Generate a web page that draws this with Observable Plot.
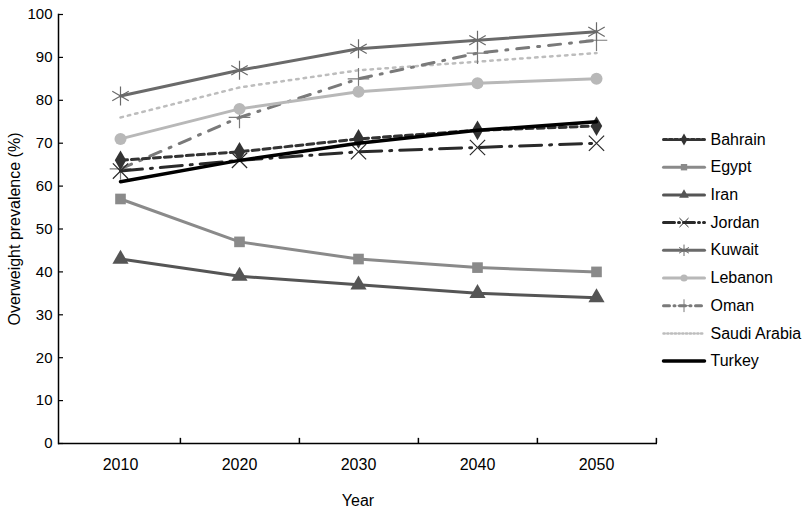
<!DOCTYPE html>
<html>
<head>
<meta charset="utf-8">
<script src="https://cdn.jsdelivr.net/npm/d3@7"></script>
<script src="https://cdn.jsdelivr.net/npm/@observablehq/plot@0.6"></script>
<style>
  html, body { margin: 0; padding: 0; background: #fff; }
  #wrap { position: relative; width: 812px; height: 513px; font-family: "Liberation Sans", Arial, sans-serif; }
  #wrap svg { position: absolute; left: 0; top: 0; }
</style>
</head>
<body>
<div id="wrap"></div>
<script>
// ---- data ----
const years = ["2010", "2020", "2030", "2040", "2050"];
const countries = ["Bahrain", "Egypt", "Iran", "Jordan", "Kuwait", "Lebanon", "Oman", "Saudi Arabia", "Turkey"];
const bahrain = [66, 68, 71, 73, 74];
const egypt = [57, 47, 43, 41, 40];
const iran = [43, 39, 37, 35, 34];
const jordan = [63.5, 66, 68, 69, 70];
const kuwait = [81, 87, 92, 94, 96];
const lebanon = [71, 78, 82, 84, 85];
const oman = [64, 76, 85, 91, 94];
const saudiArabia = [76, 83, 87, 89, 91];
const turkey = [61, 66, 70, 73, 75];
const yTicks = [0, 10, 20, 30, 40, 50, 60, 70, 80, 90, 100];

const seriesValues = {
  "Bahrain": bahrain, "Egypt": egypt, "Iran": iran, "Jordan": jordan, "Kuwait": kuwait,
  "Lebanon": lebanon, "Oman": oman, "Saudi Arabia": saudiArabia, "Turkey": turkey
};

// ---- styles ----
const styles = {
  "Bahrain":      {stroke: "#333", width: 3,   dash: "7,4",        symbol: "diamond", r: 6,  fill: "#333"},
  "Egypt":        {stroke: "#8a8a8a", width: 3, dash: null,        symbol: "square",  r: 6,  fill: "#8a8a8a"},
  "Iran":         {stroke: "#555", width: 3,   dash: null,         symbol: "triangle", r: 6, fill: "#555"},
  "Jordan":       {stroke: "#2a2a2a", width: 3, dash: "22,8,2,8",  symbol: "times",   r: 7,  fill: "none"},
  "Kuwait":       {stroke: "#6a6a6a", width: 3, dash: null,        symbol: "asterisk", r: 9, fill: "none"},
  "Lebanon":      {stroke: "#b8b8b8", width: 3, dash: null,        symbol: "circle",  r: 6,  fill: "#b8b8b8"},
  "Oman":         {stroke: "#7a7a7a", width: 3, dash: "12,9,2,9",  symbol: "plus",    r: 7,  fill: "none"},
  "Saudi Arabia": {stroke: "#bdbdbd", width: 2.5, dash: "2.5,5",   symbol: null,      r: 0,  fill: "none"},
  "Turkey":       {stroke: "#000", width: 3.5, dash: null,         symbol: null,      r: 0,  fill: "none"}
};
const drawOrder = ["Saudi Arabia", "Oman", "Lebanon", "Kuwait", "Jordan", "Bahrain", "Turkey", "Egypt", "Iran"];

const rows = [];
for (const c of countries) seriesValues[c].forEach((v, i) => rows.push({country: c, year: years[i], value: v}));

// ---- layout ----
const W = 812, H = 513;
const mL = 58, mR = 155, mT = 14, mB = 70;
const step = (W - mL - mR) / years.length;
const font = "Liberation Sans, Arial, sans-serif";

const marks = [];
// axes lines
marks.push(Plot.ruleY([0], {stroke: "#000", strokeWidth: 1.5}));
marks.push(Plot.frame({anchor: "left", stroke: "#000", strokeWidth: 1.5}));
// x ticks at category boundaries (inward)
marks.push(Plot.ruleX(years, {x: d => d, dx: step / 2, y1: 0, y2: 1.2, stroke: "#000", strokeWidth: 1.5}));
marks.push(Plot.axisX({tickSize: 0, tickPadding: 15, fontSize: 16, label: null}));
marks.push(Plot.axisY({ticks: yTicks, tickSize: -5, tickPadding: 11, fontSize: 15, label: null, strokeWidth: 1.2}));
// series
for (const c of drawOrder) {
  const s = styles[c];
  const data = rows.filter(d => d.country === c);
  marks.push(Plot.line(data, {x: "year", y: "value", stroke: s.stroke, strokeWidth: s.width,
    strokeDasharray: s.dash || undefined, curve: "linear"}));
  if (s.symbol) {
    const filled = s.fill !== "none";
    marks.push(Plot.dot(data, {x: "year", y: "value", symbol: s.symbol, r: s.r,
      fill: filled ? s.fill : "none", stroke: filled ? "none" : s.stroke, strokeWidth: filled ? 0 : 1.2}));
  }
}

const chart = Plot.plot({
  width: W, height: H,
  marginLeft: mL, marginRight: mR, marginTop: mT, marginBottom: mB,
  style: {fontFamily: font, fontSize: "15px", color: "#000", background: "transparent"},
  x: {type: "point", domain: years, padding: 0.5, label: null},
  y: {domain: [0, 100], label: null},
  marks
});
document.getElementById("wrap").appendChild(chart);

// ---- legend and axis titles (overlay) ----
const legendRows = countries.map((c, i) => ({country: c, i}));
const lx0 = 663, lx1 = 704, ltx = 710, ly0 = 139, lstep = 27.7;
const legMarks = [];
for (const r of legendRows) {
  const s = styles[r.country];
  const y = ly0 + r.i * lstep;
  legMarks.push(Plot.line([[lx0, y], [lx1, y]], {stroke: s.stroke, strokeWidth: s.width,
    strokeDasharray: s.dash ? s.dash.split(",").map(v => +v * 0.5).join(",") : undefined}));
  if (s.symbol) {
    const filled = s.fill !== "none";
    legMarks.push(Plot.dot([[(lx0 + lx1) / 2, y]], {symbol: s.symbol, r: s.r * 0.6,
      fill: filled ? s.fill : "#fff", stroke: filled ? "none" : s.stroke, strokeWidth: 1}));
  }
}
legMarks.push(Plot.text(legendRows, {x: ltx, y: d => ly0 + d.i * lstep, text: "country",
  textAnchor: "start", fontSize: 16, fill: "#000"}));
legMarks.push(Plot.text(["Year"], {x: (mL + W - mR) / 2, y: 500, text: d => d, fontSize: 16, fill: "#000"}));
legMarks.push(Plot.text(["Overweight prevalence (%)"], {x: 14, y: mT + (H - mT - mB) / 2, text: d => d,
  rotate: -90, fontSize: 16, fill: "#000"}));

const overlay = Plot.plot({
  width: W, height: H, margin: 0,
  style: {fontFamily: font, background: "transparent"},
  x: {type: "identity", axis: null},
  y: {type: "identity", axis: null},
  marks: legMarks
});
overlay.style.pointerEvents = "none";
document.getElementById("wrap").appendChild(overlay);
</script>
</body>
</html>
